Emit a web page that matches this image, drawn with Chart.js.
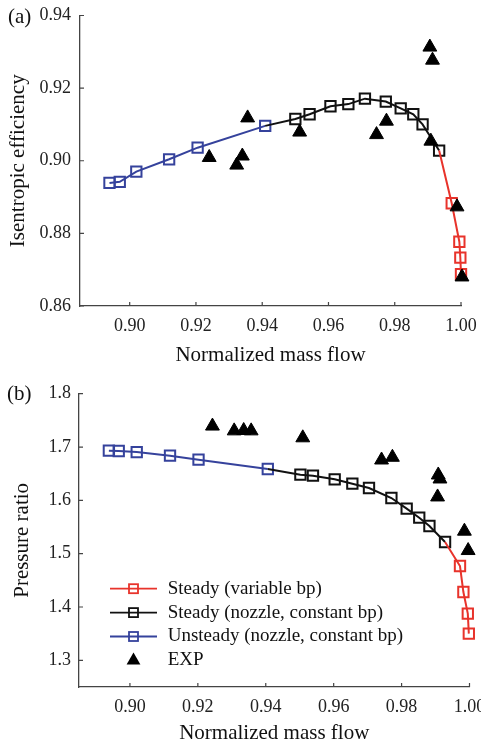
<!DOCTYPE html>
<html>
<head>
<meta charset="utf-8">
<script src="https://cdn.jsdelivr.net/npm/chart.js@4.4.0/dist/chart.umd.min.js"></script>
<style>
  html, body { margin: 0; padding: 0; background: #fff; }
  canvas { display: block; }
</style>
</head>
<body>
<canvas id="effChart" width="481" height="372"></canvas>
<canvas id="prChart" width="481" height="372"></canvas>
<script>
// ---- (a) isentropic efficiency ----
const effUnsteadyX = [0.8939, 0.8970, 0.9020, 0.9119, 0.9205, 0.9409];
const effUnsteadyY = [0.8939, 0.8942, 0.8970, 0.9004, 0.9036, 0.9096];
const effNozzleX = [0.9500, 0.9543, 0.9606, 0.9660, 0.9710, 0.9773, 0.9818, 0.9856, 0.9884, 0.9934];
const effNozzleY = [0.9115, 0.9128, 0.9150, 0.9156, 0.9171, 0.9163, 0.9144, 0.9128, 0.9100, 0.9028];
const effVariableX = [0.9972, 0.9995, 0.9998, 1.0000];
const effVariableY = [0.8883, 0.8777, 0.8733, 0.8688];
const effExpX = [0.9906, 0.9914, 0.9356, 0.9240, 0.9323, 0.9340, 0.9513, 0.9745, 0.9775, 0.9909, 0.9988, 1.0003];
const effExpY = [0.9313, 0.9277, 0.9118, 0.9009, 0.8988, 0.9013, 0.9079, 0.9072, 0.9109, 0.9054, 0.8873, 0.8680];
const effTicks = [0.86, 0.88, 0.90, 0.92, 0.94];

// ---- (b) pressure ratio ----
const prUnsteadyX = [0.8938, 0.8967, 0.9020, 0.9118, 0.9202, 0.9406];
const prUnsteadyY = [1.6931, 1.6925, 1.6906, 1.6838, 1.6763, 1.6588];
const prNozzleX = [0.9502, 0.9539, 0.9603, 0.9655, 0.9704, 0.9770, 0.9815, 0.9852, 0.9882, 0.9928];
const prNozzleY = [1.6481, 1.6463, 1.6394, 1.6313, 1.6231, 1.6044, 1.5844, 1.5675, 1.5519, 1.5219];
const prVariableX = [0.9972, 0.9982, 0.9995, 0.9998];
const prVariableY = [1.4769, 1.4281, 1.3875, 1.3500];
const prExpX = [0.9243, 0.9307, 0.9335, 0.9357, 0.9509, 0.9741, 0.9773, 0.9908, 0.9913, 0.9906, 0.9985, 0.9996];
const prExpY = [1.7393, 1.7303, 1.7310, 1.7303, 1.7173, 1.6757, 1.6808, 1.6476, 1.6401, 1.6064, 1.5422, 1.5059];
const prTicks = [1.3, 1.4, 1.5, 1.6, 1.7, 1.8];

const flowTicks = [0.90, 0.92, 0.94, 0.96, 0.98, 1.00];

const RED = '#e8332b', BLACK = '#111111', BLUE = '#35429c';
const SERIF = '"Liberation Serif", "Times New Roman", serif';
Chart.defaults.font.family = SERIF;

function toPts(xs, ys) {
  return xs.map((x, i) => ({ x: x, y: ys[i] }));
}

// line with hollow squares; prev = joining point taken from the series before (no marker)
function lineSet(label, color, xs, ys, prev, order) {
  const pts = toPts(xs, ys);
  if (prev) pts.unshift(prev);
  return {
    label: label,
    data: pts,
    showLine: true,
    borderColor: color,
    backgroundColor: 'rgba(0,0,0,0)',
    borderWidth: 2,
    tension: 0,
    pointStyle: 'rect',
    pointRadius: ctx => (prev && ctx.dataIndex === 0 ? 0 : 7.3),
    pointBorderWidth: 2,
    pointBorderColor: color,
    pointBackgroundColor: 'rgba(0,0,0,0)',
    clip: false,
    order: order
  };
}

function expSet(xs, ys) {
  return {
    label: 'EXP',
    data: toPts(xs, ys),
    showLine: false,
    pointStyle: 'triangle',
    pointRadius: 8,
    pointBorderWidth: 1,
    pointBorderColor: '#000',
    pointBackgroundColor: '#000',
    clip: false,
    order: 0
  };
}

// inward tick marks + panel label
const axisDecor = {
  id: 'axisDecor',
  afterDraw(chart, args, o) {
    const ctx = chart.ctx, a = chart.chartArea;
    const xs = chart.scales.x, ys = chart.scales.y;
    ctx.save();
    ctx.strokeStyle = '#444';
    ctx.lineWidth = 1.2;
    ctx.beginPath();
    xs.ticks.forEach(t => {
      const p = xs.getPixelForValue(t.value);
      ctx.moveTo(p, a.bottom);
      ctx.lineTo(p, a.bottom - 4);
    });
    ys.ticks.forEach(t => {
      const p = ys.getPixelForValue(t.value);
      ctx.moveTo(a.left, p);
      ctx.lineTo(a.left + 4, p);
    });
    ctx.stroke();
    ctx.fillStyle = '#111';
    ctx.font = '21px ' + SERIF;
    ctx.textBaseline = 'middle';
    ctx.textAlign = 'left';
    ctx.fillText(o.text, o.x, o.y);
    ctx.restore();
  }
};

// legend drawn inside the plot
const innerLegend = {
  id: 'innerLegend',
  afterDraw(chart, args, o) {
    if (!o.show) return;
    const ctx = chart.ctx, a = chart.chartArea;
    const x0 = a.left + o.dx, y0 = a.top + o.dy;
    ctx.save();
    ctx.font = '19px ' + SERIF;
    ctx.textBaseline = 'middle';
    ctx.textAlign = 'left';
    o.items.forEach((di, row) => {
      const ds = chart.data.datasets[di];
      const y = y0 + row * o.rowHeight;
      const cx = x0 + 23.5;
      if (ds.showLine) {
        ctx.strokeStyle = ds.borderColor;
        ctx.lineWidth = 1.8;
        ctx.beginPath();
        ctx.moveTo(x0, y);
        ctx.lineTo(x0 + 47, y);
        ctx.stroke();
        ctx.lineWidth = 1.8;
        ctx.strokeRect(cx - 4.5, y - 4.5, 9, 9);
      } else {
        ctx.fillStyle = '#000';
        ctx.beginPath();
        ctx.moveTo(cx, y - 8);
        ctx.lineTo(cx + 6.9, y + 4);
        ctx.lineTo(cx - 6.9, y + 4);
        ctx.closePath();
        ctx.fill();
      }
      ctx.fillStyle = '#111';
      ctx.fillText(ds.label, x0 + 57.7, y);
    });
    ctx.restore();
  }
};

function makeChart(id, cfg) {
  return new Chart(document.getElementById(id), {
    type: 'scatter',
    data: { datasets: cfg.datasets },
    plugins: [axisDecor, innerLegend],
    options: {
      responsive: false,
      animation: false,
      devicePixelRatio: 1,
      layout: { padding: cfg.padding },
      plugins: {
        legend: { display: false },
        tooltip: { enabled: false },
        axisDecor: cfg.label,
        innerLegend: cfg.legend
      },
      scales: {
        x: {
          type: 'linear',
          min: 0.885,
          max: 1.0,
          afterBuildTicks: s => { s.ticks = flowTicks.map(v => ({ value: v })); },
          afterFit: s => { s.height = cfg.xHeight; s.paddingLeft = 0; s.paddingRight = 0; },
          ticks: {
            callback: v => v.toFixed(2),
            padding: 9,
            autoSkip: false,
            maxRotation: 0,
            color: '#222',
            font: { size: 18 }
          },
          grid: { display: false, drawTicks: false },
          border: { display: true, color: '#444', width: 1.3 },
          title: {
            display: true,
            text: 'Normalized mass flow',
            color: '#111',
            font: { size: 21 },
            padding: { top: 0, bottom: cfg.xTitlePad }
          }
        },
        y: {
          type: 'linear',
          min: cfg.yMin,
          max: cfg.yMax,
          afterBuildTicks: s => { s.ticks = cfg.yTicks.map(v => ({ value: v })); },
          afterFit: s => { s.width = cfg.yWidth; s.paddingTop = 0; s.paddingBottom = 0; },
          ticks: {
            callback: v => v.toFixed(cfg.yDigits),
            padding: cfg.yTickPad,
            color: '#222',
            font: { size: 18 }
          },
          grid: { display: false, drawTicks: false },
          border: { display: true, color: '#444', width: 1.3 },
          title: {
            display: true,
            text: cfg.yTitle,
            color: '#111',
            font: { size: 21 },
            padding: { top: cfg.yTitlePad, bottom: 0 }
          }
        }
      }
    }
  });
}

const effLast = { x: effUnsteadyX[effUnsteadyX.length - 1], y: effUnsteadyY[effUnsteadyY.length - 1] };
const effNozLast = { x: effNozzleX[effNozzleX.length - 1], y: effNozzleY[effNozzleY.length - 1] };
makeChart('effChart', {
  datasets: [
    lineSet('Steady (variable bp)', RED, effVariableX, effVariableY, effNozLast, 1),
    lineSet('Steady (nozzle, constant bp)', BLACK, effNozzleX, effNozzleY, effLast, 2),
    lineSet('Unsteady (nozzle, constant bp)', BLUE, effUnsteadyX, effUnsteadyY, null, 3),
    expSet(effExpX, effExpY)
  ],
  padding: { left: 0, right: 20, top: 15.5, bottom: 0 },
  xHeight: 66,
  xTitlePad: 4.4,
  yMin: 0.86, yMax: 0.94, yTicks: effTicks, yDigits: 2,
  yWidth: 80, yTickPad: 9,
  yTitle: 'Isentropic efficiency', yTitlePad: 5.4,
  label: { text: '(a)', x: 8, y: 17 },
  legend: { show: false }
});

const prLast = { x: prUnsteadyX[prUnsteadyX.length - 1], y: prUnsteadyY[prUnsteadyY.length - 1] };
const prNozLast = { x: prNozzleX[prNozzleX.length - 1], y: prNozzleY[prNozzleY.length - 1] };
makeChart('prChart', {
  datasets: [
    lineSet('Steady (variable bp)', RED, prVariableX, prVariableY, prNozLast, 1),
    lineSet('Steady (nozzle, constant bp)', BLACK, prNozzleX, prNozzleY, prLast, 2),
    lineSet('Unsteady (nozzle, constant bp)', BLUE, prUnsteadyX, prUnsteadyY, null, 3),
    expSet(prExpX, prExpY)
  ],
  padding: { left: 0, right: 11.5, top: 21.7, bottom: 0 },
  xHeight: 57,
  xTitlePad: -2,
  yMin: 1.25, yMax: 1.8, yTicks: prTicks, yDigits: 1,
  yWidth: 79, yTickPad: 8,
  yTitle: 'Pressure ratio', yTitlePad: 10,
  label: { text: '(b)', x: 7, y: 22.5 },
  legend: { show: true, dx: 31, dy: 195, rowHeight: 23.9, items: [0, 1, 2, 3] }
});
</script>
</body>
</html>
